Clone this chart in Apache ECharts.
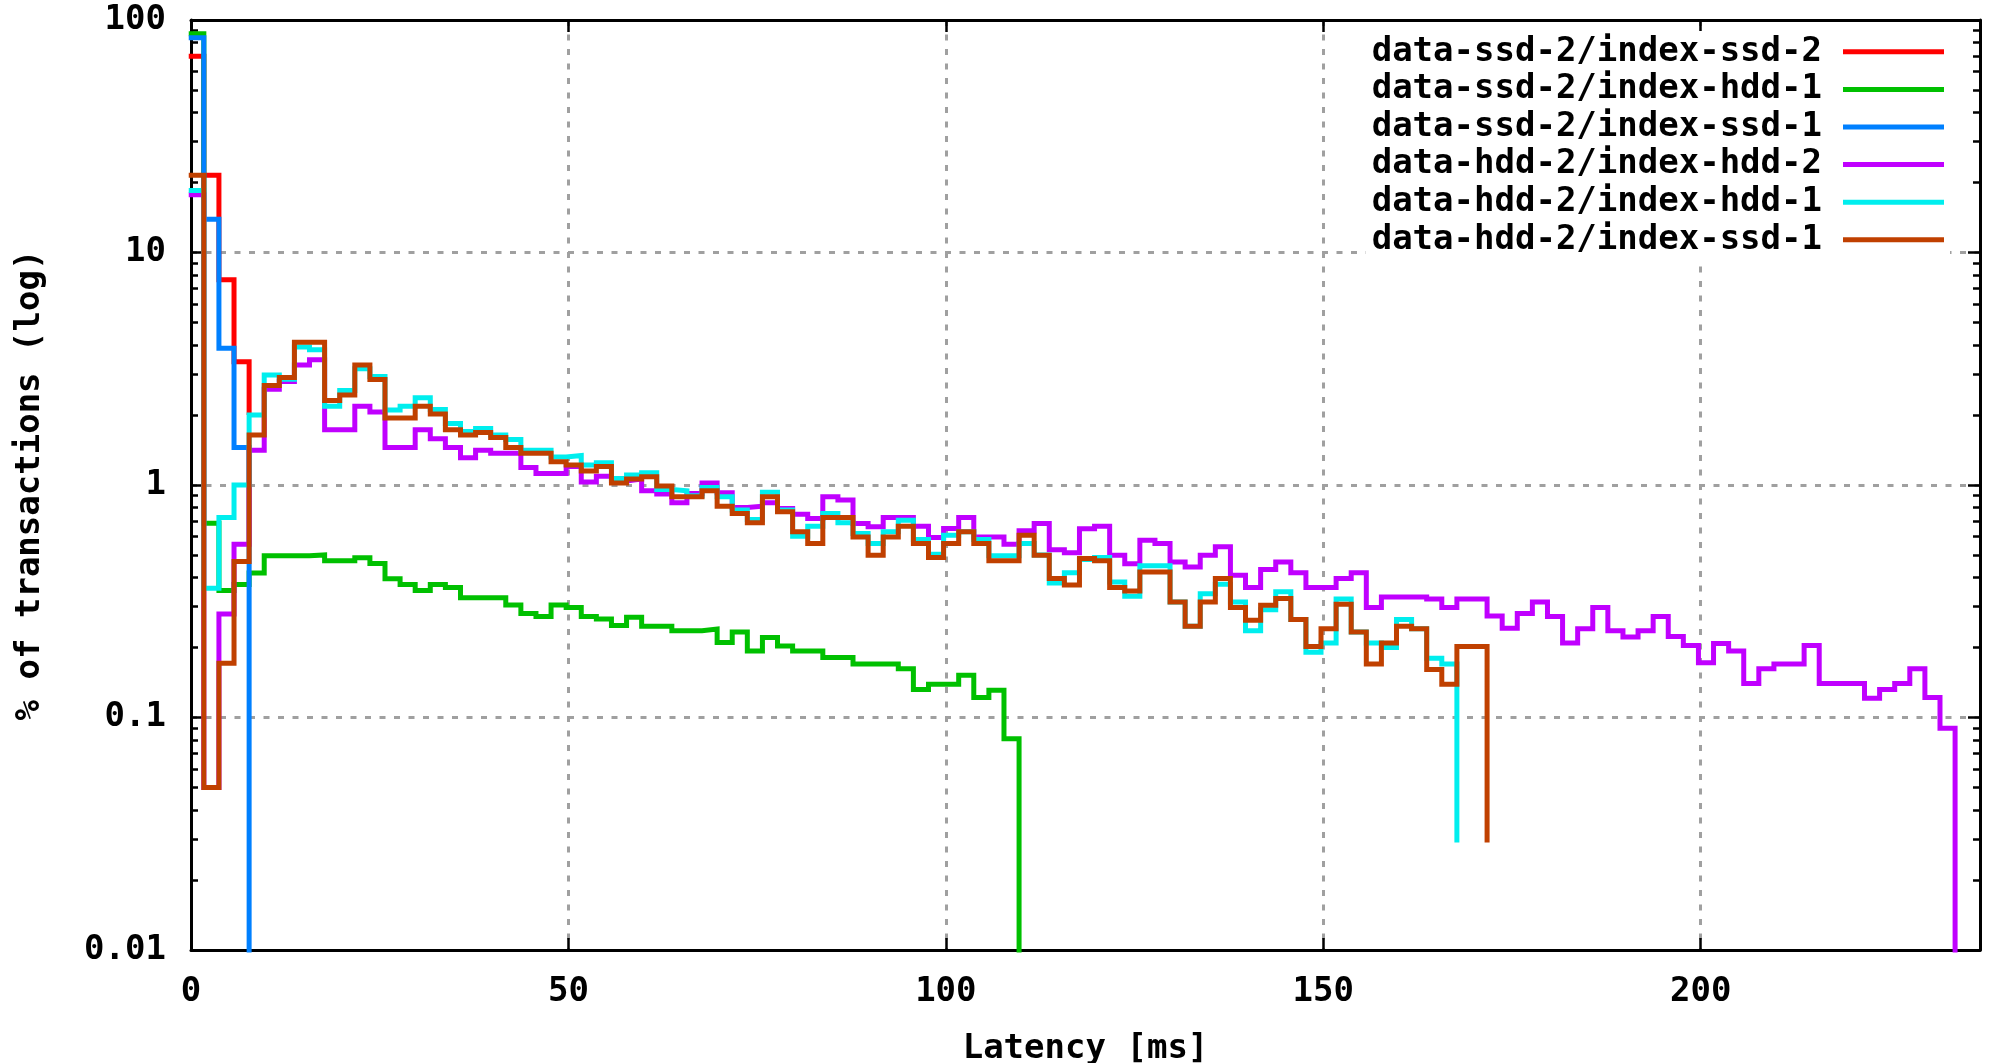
<!DOCTYPE html>
<html>
<head>
<meta charset="utf-8">
<title>Latency histogram</title>
<script src="https://cdn.jsdelivr.net/npm/echarts@6/dist/echarts.min.js"></script>
<style>
    html, body { margin: 0; padding: 0; background: #fff; }
    #chart { width: 1990px; height: 1063px; }
</style>
</head>
<body>
<div id="chart"></div>
<script>
// histogram bins are 2 ms wide, the first one starts just left of 0
var BIN_START = -0.3;
var BIN_WIDTH = 2;
// closing step that falls off the bottom of the log axis
var BELOW_AXIS = 0.001;

var seriesNames = [
    'data-ssd-2/index-ssd-2',
    'data-ssd-2/index-hdd-1',
    'data-ssd-2/index-ssd-1',
    'data-hdd-2/index-hdd-2',
    'data-hdd-2/index-hdd-1',
    'data-hdd-2/index-ssd-1'
];
var seriesColors = ['#ff0000', '#00c000', '#0080ff', '#c000ff', '#00eeee', '#c04000'];

// % of transactions per bin
var ssd2IndexSsd2 = [69.8, 21.5, 7.63, 3.39, 2.0];

var ssd2IndexHdd1 = [87.2, 0.685, 0.352, 0.373, 0.418, 0.496, 0.496, 0.496, 0.5, 0.472,
    0.472, 0.487, 0.46, 0.395, 0.373, 0.352, 0.373, 0.362, 0.327, 0.327,
    0.327, 0.305, 0.28, 0.272, 0.305, 0.297, 0.272, 0.265, 0.249, 0.27,
    0.247, 0.247, 0.236, 0.236, 0.24, 0.21, 0.233, 0.193, 0.221, 0.203,
    0.193, 0.193, 0.181, 0.181, 0.17, 0.17, 0.17, 0.162, 0.132, 0.139,
    0.139, 0.152, 0.122, 0.131, 0.081, BELOW_AXIS];

var ssd2IndexSsd1 = [83.8, 13.9, 3.87, 1.45, BELOW_AXIS];

var hdd2IndexHdd2 = [17.7, 0.05, 0.279, 0.556, 1.41, 2.58, 2.79, 3.28, 3.46, 1.73,
    1.73, 2.18, 2.06, 1.45, 1.45, 1.73, 1.58, 1.45, 1.31, 1.41,
    1.37, 1.37, 1.19, 1.12, 1.12, 1.2, 1.03, 1.09, 1.04, 1.06,
    0.944, 0.914, 0.839, 0.92, 1.02, 0.926, 0.8, 0.811, 0.839, 0.793,
    0.749, 0.718, 0.89, 0.861, 0.683, 0.661, 0.725, 0.725, 0.665, 0.594,
    0.65, 0.725, 0.598, 0.598, 0.556, 0.635, 0.683, 0.526, 0.511, 0.648,
    0.665, 0.499, 0.459, 0.579, 0.56, 0.467, 0.444, 0.499, 0.542, 0.409,
    0.362, 0.433, 0.467, 0.419, 0.362, 0.362, 0.396, 0.419, 0.297, 0.33,
    0.33, 0.33, 0.323, 0.297, 0.323, 0.323, 0.273, 0.242, 0.28, 0.314,
    0.272, 0.209, 0.241, 0.297, 0.236, 0.222, 0.236, 0.272, 0.223, 0.204,
    0.172, 0.208, 0.193, 0.14, 0.162, 0.17, 0.17, 0.204, 0.14, 0.14,
    0.14, 0.121, 0.132, 0.14, 0.162, 0.122, 0.09, BELOW_AXIS];

var hdd2IndexHdd1 = [18.5, 0.36, 0.725, 1.0, 2.0, 2.97, 2.85, 3.92, 3.82, 2.18,
    2.55, 3.16, 2.93, 2.1, 2.18, 2.37, 2.11, 1.84, 1.7, 1.75,
    1.64, 1.57, 1.41, 1.41, 1.32, 1.34, 1.22, 1.246, 1.067, 1.103,
    1.13, 0.957, 0.944, 0.9, 0.976, 0.89, 0.78, 0.711, 0.93, 0.78,
    0.602, 0.665, 0.754, 0.688, 0.618, 0.56, 0.629, 0.706, 0.583, 0.504,
    0.608, 0.629, 0.583, 0.496, 0.496, 0.56, 0.5, 0.379, 0.419, 0.478,
    0.488, 0.383, 0.332, 0.449, 0.449, 0.314, 0.247, 0.341, 0.374, 0.314,
    0.236, 0.291, 0.347, 0.264, 0.191, 0.209, 0.323, 0.233, 0.209, 0.2,
    0.264, 0.241, 0.18, 0.17, 0.029];

var hdd2IndexSsd1 = [21.5, 0.05, 0.171, 0.469, 1.64, 2.68, 2.9, 4.11, 4.11, 2.31,
    2.44, 3.28, 2.84, 1.94, 1.94, 2.18, 2.02, 1.73, 1.64, 1.68,
    1.6, 1.45, 1.37, 1.37, 1.26, 1.22, 1.15, 1.2, 1.02, 1.06,
    1.085, 0.99, 0.89, 0.89, 0.944, 0.811, 0.754, 0.688, 0.89, 0.767,
    0.629, 0.56, 0.725, 0.725, 0.598, 0.499, 0.598, 0.665, 0.56, 0.488,
    0.56, 0.629, 0.56, 0.472, 0.472, 0.608, 0.499, 0.396, 0.371, 0.483,
    0.472, 0.362, 0.35, 0.423, 0.423, 0.314, 0.247, 0.314, 0.396, 0.297,
    0.262, 0.304, 0.325, 0.264, 0.202, 0.241, 0.307, 0.233, 0.17, 0.209,
    0.247, 0.241, 0.161, 0.139, 0.202, 0.202, 0.029];

var seriesValues = [ssd2IndexSsd2, ssd2IndexHdd1, ssd2IndexSsd1, hdd2IndexHdd2, hdd2IndexHdd1, hdd2IndexSsd1];

// axes
var xMax = 237;
var xTickStep = 50;
var yMajorTicks = [0.01, 0.1, 1, 10, 100];
var yMinorTicks = [0.02, 0.03, 0.04, 0.05, 0.06, 0.07, 0.08, 0.09,
    0.2, 0.3, 0.4, 0.5, 0.6, 0.7, 0.8, 0.9,
    2, 3, 4, 5, 6, 7, 8, 9,
    20, 30, 40, 50, 60, 70, 80, 90];

var font = {
    fontFamily: 'DejaVu Sans Mono',
    fontWeight: 'bold',
    fontSize: 34,
    color: '#000'
};
var borderLine = { show: true, onZero: false, lineStyle: { color: '#000', width: 3 } };
var noLine = { show: false, onZero: false };
var gridLine = { show: true, lineStyle: { color: '#a0a0a0', width: 3, type: [6, 8.5] } };

function toPoints(values) {
    return values.map(function (v, j) {
        return [BIN_START + BIN_WIDTH * j, v];
    });
}

function yAxisOf(position, ticks, tickLength, withLine) {
    return {
        type: 'log',
        logBase: 10,
        min: 0.01,
        max: 100,
        position: position,
        axisLine: withLine ? borderLine : noLine,
        axisTick: {
            show: true,
            inside: true,
            length: tickLength,
            customValues: ticks,
            lineStyle: { color: '#000', width: 2.5 }
        },
        axisLabel: { show: false },
        splitLine: { show: false }
    };
}

var chart = echarts.init(document.getElementById('chart'));

var leftMajor = yAxisOf('left', yMajorTicks, 12, true);
leftMajor.name = '% of transactions (log)';
leftMajor.nameLocation = 'middle';
leftMajor.nameRotate = 90;
leftMajor.nameGap = 144;
leftMajor.nameTextStyle = font;
leftMajor.axisLabel = Object.assign({ show: true, margin: 25, customValues: yMajorTicks }, font);
leftMajor.splitLine = gridLine;

var option = {
    animation: false,
    backgroundColor: '#fff',
    grid: {
        left: 191,
        right: 10,
        top: 20,
        bottom: 113,
        containLabel: false,
        outerBoundsMode: 'none'
    },
    legend: {
        orient: 'vertical',
        right: 40,
        top: 31,
        align: 'right',
        icon: 'rect',
        itemWidth: 101,
        itemHeight: 5,
        itemGap: 0,
        padding: [2, 6, 2, 6],
        backgroundColor: '#fff',
        selectedMode: false,
        textStyle: Object.assign({ lineHeight: 37.6, padding: [0, 16, 0, 0] }, font),
        data: seriesNames
    },
    xAxis: [{
        type: 'value',
        position: 'bottom',
        min: 0,
        max: xMax,
        interval: xTickStep,
        name: 'Latency [ms]',
        nameLocation: 'middle',
        nameGap: 82,
        nameTextStyle: font,
        axisLine: borderLine,
        axisTick: { show: true, inside: true, length: 12, lineStyle: { color: '#000', width: 2.5 } },
        axisLabel: Object.assign({ margin: 25, showMaxLabel: false }, font),
        splitLine: gridLine
    }, {
        type: 'value',
        position: 'top',
        min: 0,
        max: xMax,
        interval: xTickStep,
        axisLine: borderLine,
        axisTick: { show: true, inside: true, length: 12, lineStyle: { color: '#000', width: 2.5 } },
        axisLabel: { show: false },
        splitLine: { show: false }
    }],
    yAxis: [
        leftMajor,
        yAxisOf('left', yMinorTicks, 7, false),
        yAxisOf('right', yMajorTicks, 12, true),
        yAxisOf('right', yMinorTicks, 7, false)
    ],
    series: seriesNames.map(function (name, i) {
        return {
            name: name,
            type: 'line',
            step: 'end',
            xAxisIndex: 0,
            yAxisIndex: 0,
            symbol: 'none',
            showSymbol: false,
            clip: true,
            emphasis: { disabled: true },
            itemStyle: { color: seriesColors[i] },
            lineStyle: { color: seriesColors[i], width: 5, join: 'miter', cap: 'butt' },
            data: toPoints(seriesValues[i])
        };
    })
};

chart.setOption(option);
</script>
</body>
</html>
